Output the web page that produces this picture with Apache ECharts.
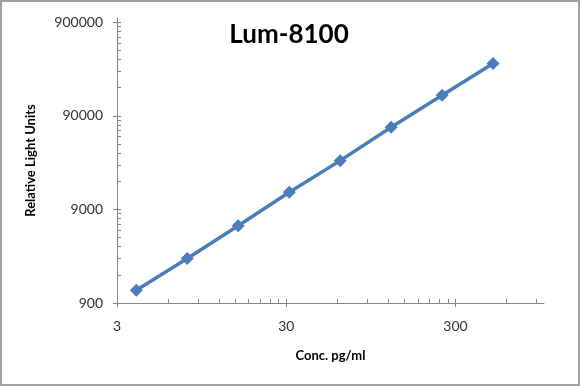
<!DOCTYPE html>
<html lang="en">
<head>
    <meta charset="UTF-8">
    <title>Lum-8100</title>
    <script src="https://cdn.jsdelivr.net/npm/echarts@6/dist/echarts.min.js"></script>
    <style>
        html, body { margin: 0; padding: 0; background: #fff; }
    </style>
</head>
<body>
    <div id="main" style="width: 580px;height: 386px"></div>

    <script type="text/javascript">
        // 标准曲线数据 (pg/ml 对 RLU)
        var conc = [3.9, 7.8, 15.6, 31.25, 62.5, 125, 250, 500];
        var rlu = [1230, 2690, 6020, 13750, 29900, 68000, 149500, 327000];
        var xTickLabels = [3, 30, 300];
        var yTickLabels = [900, 9000, 90000, 900000];
        var xMax = 1000, yMax = 1000000;

        // 以 3 和 900 为起点的对数坐标, 这样 interval 从 min 开始数
        var x0 = xTickLabels[0], y0 = yTickLabels[0];
        function lx(v) { return Math.log10(v / x0); }
        function ly(v) { return Math.log10(v / y0); }

        function minorTicks(base, top, f) {
            var out = [];
            for (var d = 0; base * Math.pow(10, d) < top; d++) {
                for (var k = 1; k <= 9; k++) {
                    var v = base * k * Math.pow(10, d);
                    if (v <= top) out.push(f(v));
                }
            }
            return out;
        }

        var myChart = echarts.init(document.getElementById('main'));
        var axisColor = '#868686';
        var font = 'Lato, "Open Sans", sans-serif';

        var majorX = xTickLabels.map(lx), majorY = yTickLabels.map(ly);

        myChart.setOption({
            animation: false,
            grid: { left: 117, right: 36, top: 18, bottom: 83 },
            graphic: [{
                type: 'rect',
                shape: { x: 1, y: 1, width: 578, height: 384 },
                style: { fill: 'none', stroke: '#a0a0a0', lineWidth: 2 }
            }, {
                type: 'text',
                x: 289, y: 35,
                style: {
                    text: 'Lum-8100', fill: '#000',
                    font: 'bold 26px ' + font,
                    align: 'center', verticalAlign: 'middle'
                }
            }],
            xAxis: [{
                type: 'value', position: 'bottom',
                min: 0, max: lx(xMax), interval: 1,
                splitLine: { show: false },
                axisLine: { lineStyle: { color: axisColor } },
                axisTick: { customValues: majorX, length: 4, lineStyle: { color: axisColor } },
                axisLabel: {
                    customValues: majorX, margin: 16,
                    color: '#333', fontSize: 14, fontFamily: font,
                    formatter: function (v) { return Math.round(x0 * Math.pow(10, v)); }
                },
                name: 'Conc. pg/ml', nameLocation: 'middle', nameGap: 46,
                nameTextStyle: { color: '#000', fontWeight: 'bold', fontSize: 13, fontFamily: font }
            }, {
                type: 'value', position: 'bottom',
                min: 0, max: lx(xMax), interval: 1,
                splitLine: { show: false },
                axisLine: { show: false },
                axisTick: { customValues: minorTicks(x0, xMax, lx), inside: true, length: 4, lineStyle: { color: axisColor } },
                axisLabel: { show: false }
            }],
            yAxis: [{
                type: 'value', position: 'left',
                min: 0, max: ly(yMax), interval: 1,
                splitLine: { show: false },
                axisLine: { show: true, lineStyle: { color: axisColor } },
                axisTick: { show: true, customValues: majorY, length: 4, lineStyle: { color: axisColor } },
                axisLabel: {
                    customValues: majorY, margin: 14,
                    color: '#333', fontSize: 14, fontFamily: font,
                    formatter: function (v) { return Math.round(y0 * Math.pow(10, v)); }
                },
                name: 'Relative Light Units', nameLocation: 'middle', nameGap: 80,
                nameTextStyle: { color: '#000', fontWeight: 'bold', fontSize: 13, fontFamily: font }
            }, {
                type: 'value', position: 'left',
                min: 0, max: ly(yMax), interval: 1,
                splitLine: { show: false },
                axisLine: { show: false },
                axisTick: { show: true, customValues: minorTicks(y0, yMax, ly), inside: true, length: 4, lineStyle: { color: axisColor } },
                axisLabel: { show: false }
            }],
            series: [{
                type: 'line',
                data: conc.map(function (c, i) { return [lx(c), ly(rlu[i])]; }),
                symbol: 'diamond', symbolSize: 13,
                itemStyle: { color: '#4a7ebb' },
                lineStyle: { color: '#4a7ebb', width: 3.5 }
            }]
        });
    </script>
</body>
</html>
